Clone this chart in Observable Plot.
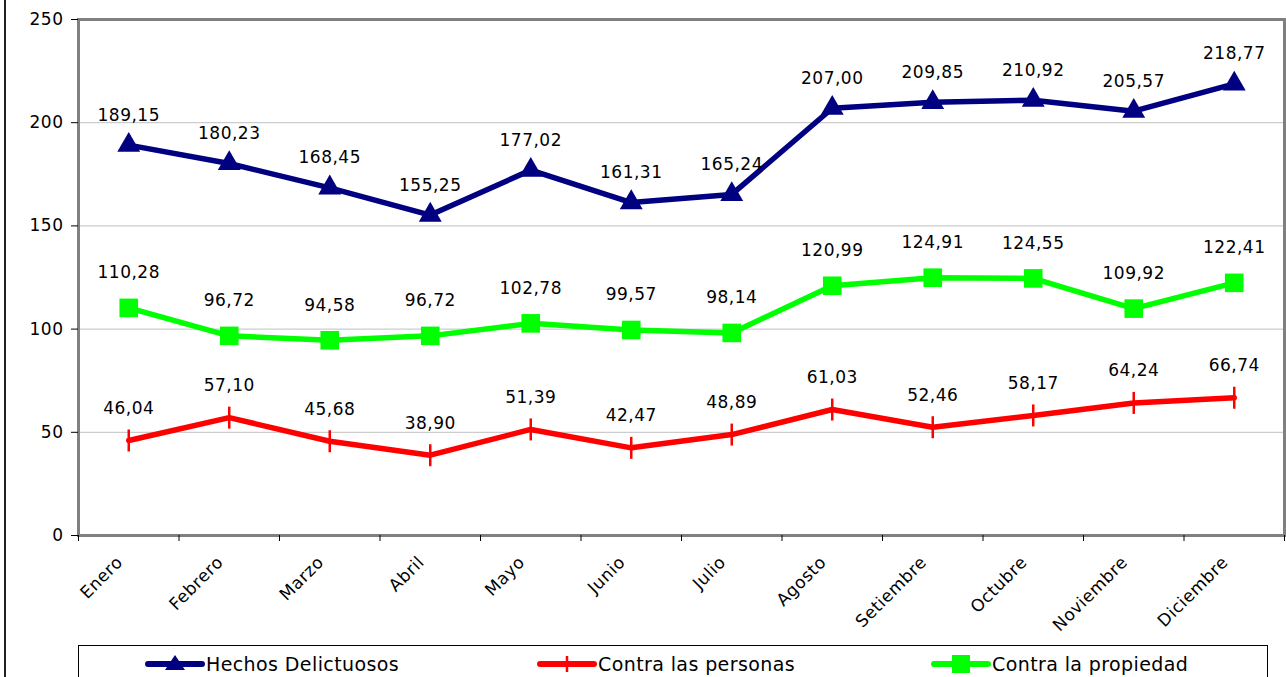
<!DOCTYPE html>
<html><head><meta charset="utf-8">
<script src="https://cdn.jsdelivr.net/npm/d3@7"></script>
<script src="https://cdn.jsdelivr.net/npm/@observablehq/plot@0.6"></script>
<style>
body{margin:0;background:#fff;font-family:"DejaVu Sans",Verdana,sans-serif;}
#wrap{position:relative;width:1286px;height:677px;overflow:hidden;}
#chart svg{display:block;}
#frame{position:absolute;left:4px;top:0;width:2px;height:677px;background:#222;}
#legend{position:absolute;left:78px;top:645px;width:1190px;height:40px;border:1px solid #000;box-sizing:border-box;background:#fff;}
.item{position:absolute;top:7px;display:flex;align-items:center;font-size:19px;color:#000;white-space:nowrap;letter-spacing:0.4px;}
.item svg{display:block;margin-right:1px;}
</style></head>
<body>
<div id="wrap">
  <div id="chart"></div>
  <div id="frame"></div>
  <div id="legend"></div>
</div>
<script>
const months = ["Enero","Febrero","Marzo","Abril","Mayo","Junio","Julio","Agosto","Setiembre","Octubre","Noviembre","Diciembre"];
const hechos = [189.15,180.23,168.45,155.25,177.02,161.31,165.24,207.00,209.85,210.92,205.57,218.77];
const personas = [46.04,57.10,45.68,38.90,51.39,42.47,48.89,61.03,52.46,58.17,64.24,66.74];
const propiedad = [110.28,96.72,94.58,96.72,102.78,99.57,98.14,120.99,124.91,124.55,109.92,122.41];
const yTicks = [0,50,100,150,200,250];
const gridTicks = [50,100,150,200];
const seriesNames = ["Hechos Delictuosos","Contra las personas","Contra la propiedad"];
const seriesColors = ["#000080","#FF0000","#00FF00"];

const W = 1286, H = 645, ML = 78, MR = 2, MT = 19, MB = 110;
const bw = (W - ML - MR) / months.length;
const rows = (vals, s) => months.map((m, i) => ({month: m, value: vals[i], series: s}));
const dH = rows(hechos, seriesNames[0]);
const dP = rows(personas, seriesNames[1]);
const dR = rows(propiedad, seriesNames[2]);
const fmt = v => v.toFixed(2).replace(".", ",");
const tickSym = {draw(ctx){ ctx.moveTo(0, -11); ctx.lineTo(0, 11); }};
const font = {fontSize: 17, fontFamily: "DejaVu Sans, Verdana, sans-serif"};

const chart = Plot.plot({
  width: W, height: H,
  marginLeft: ML, marginRight: MR, marginTop: MT, marginBottom: MB,
  style: {fontFamily: "DejaVu Sans, Verdana, sans-serif", fontSize: "17px", color: "#000", background: "#fff", letterSpacing: "0.5px"},
  x: {type: "band", domain: months, padding: 0, round: false},
  y: {domain: [0, 250]},
  marks: [
    Plot.gridY(gridTicks, {stroke: "#C0C0C0", strokeOpacity: 1}),
    Plot.frame({stroke: "#808080", strokeWidth: 3}),
    Plot.axisY(yTicks, {tickSize: 7, tickPadding: 8, label: null, ...font, stroke: "#000"}),
    Plot.axisX({tickSize: 0, tickRotate: -45, tickPadding: 24, dx: -9, label: null, ...font}),
    Plot.axisX(months, {text: null, tickSize: 6, dx: -bw / 2, label: null}),
    Plot.axisX([months[months.length - 1]], {text: null, tickSize: 6, dx: bw / 2, label: null}),
    Plot.lineY(dH, {x: "month", y: "value", stroke: seriesColors[0], strokeWidth: 5.5}),
    Plot.lineY(dR, {x: "month", y: "value", stroke: seriesColors[2], strokeWidth: 5.5}),
    Plot.lineY(dP, {x: "month", y: "value", stroke: seriesColors[1], strokeWidth: 5.5}),
    Plot.dot(dH, {x: "month", y: "value", symbol: "triangle", r: 8.5, fill: seriesColors[0]}),
    Plot.dot(dR, {x: "month", y: "value", symbol: "square", r: 10.5, fill: seriesColors[2]}),
    Plot.dot(dP, {x: "month", y: "value", symbol: tickSym, r: 5, stroke: seriesColors[1], strokeWidth: 2.5, fill: "none"}),
    Plot.text(dH, {x: "month", y: "value", text: d => fmt(d.value), dy: -30, fill: "#000", ...font}),
    Plot.text(dR, {x: "month", y: "value", text: d => fmt(d.value), dy: -35, fill: "#000", ...font}),
    Plot.text(dP, {x: "month", y: "value", text: d => fmt(d.value), dy: -32, fill: "#000", ...font})
  ]
});
document.getElementById("chart").appendChild(chart);

// legend
const legend = document.getElementById("legend");
const lefts = [66, 458, 852];
const symSvg = [
  '<polygon points="30,2 40,17 20,17" fill="#000080"/>',
  '<line x1="30" y1="3" x2="30" y2="19" stroke="#FF0000" stroke-width="2.5"/>',
  '<rect x="21" y="2" width="18" height="18" fill="#00FF00"/>'
];
seriesNames.forEach((name, i) => {
  const el = document.createElement("div");
  el.className = "item";
  el.style.left = lefts[i] + "px";
  el.innerHTML = `<svg width="60" height="22"><line x1="3" y1="11" x2="57" y2="11" stroke="${seriesColors[i]}" stroke-width="6" stroke-linecap="round"/>${symSvg[i]}</svg><span>${name}</span>`;
  legend.appendChild(el);
});
</script>
</body></html>
